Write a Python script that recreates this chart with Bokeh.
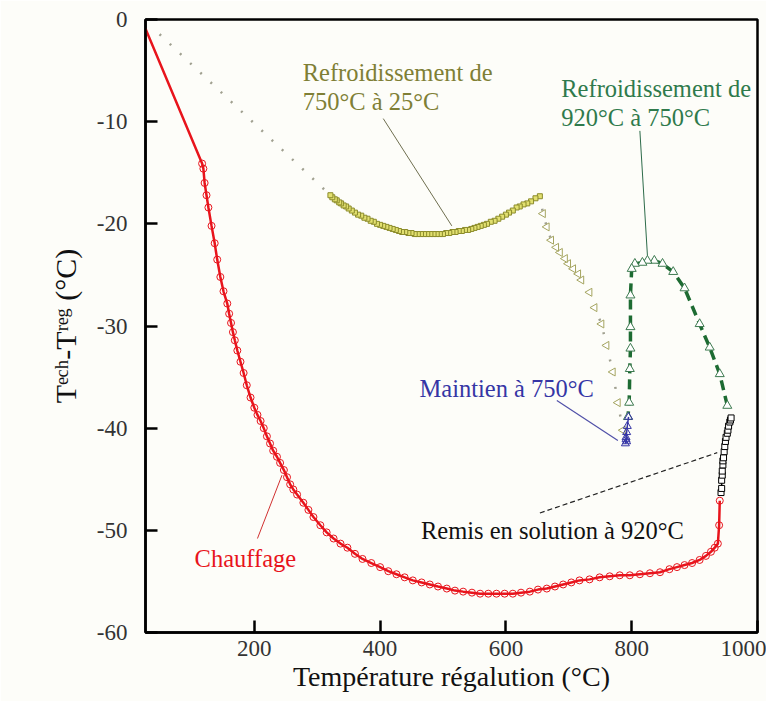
import math
from bokeh.plotting import figure
from bokeh.models import Range1d
from bokeh.core.properties import value
from bokeh.embed import file_html
from bokeh.resources import INLINE

# ---------------- data ----------------
# Chauffage (heating)
heat_x = [27, 117, 119, 121, 124, 127, 132, 137, 141, 146, 151, 157, 160, 163, 166, 169, 173, 178, 183,
          188, 194, 200, 205, 210, 215, 220, 225, 230, 236, 241, 247, 252, 257, 262, 268, 278, 286, 294,
          305, 315, 326, 337, 348, 360, 372, 386, 400, 413, 426, 439, 452, 466, 479, 492, 506, 519, 532,
          546, 559, 572, 585, 598, 611, 624, 638, 651, 665, 678, 691, 704, 717, 733, 749, 765, 781, 797,
          813, 829, 845, 860, 872, 884, 896, 908, 918, 926, 932, 937, 939, 940]
heat_y = [-0.9, -14.1, -14.6, -16.0, -17.2, -18.4, -20.2, -21.9, -23.5, -25.2, -26.6, -27.8, -28.8, -29.7,
          -30.6, -31.4, -32.4, -33.5, -34.6, -35.8, -37.0, -38.0, -38.7, -39.3, -40.0, -40.8, -41.5, -42.2,
          -42.8, -43.4, -44.1, -44.8, -45.5, -46.0, -46.5, -47.3, -48.0, -48.7, -49.5, -50.2, -50.8, -51.3,
          -51.7, -52.3, -52.8, -53.2, -53.6, -54.0, -54.3, -54.6, -54.9, -55.1, -55.3, -55.5, -55.7, -55.9,
          -56.0, -56.1, -56.2, -56.2, -56.2, -56.2, -56.2, -56.1, -56.0, -55.8, -55.7, -55.5, -55.3, -55.1,
          -54.9, -54.8, -54.6, -54.5, -54.4, -54.4, -54.3, -54.2, -54.1, -53.8, -53.6, -53.4, -53.2, -52.9,
          -52.5, -52.1, -51.7, -51.3, -49.5, -47.1]

# Remis en solution a 920 C (holding)
sol_x = [942, 943, 943, 944, 944, 945, 945, 946, 947, 948, 949, 950, 952, 953, 954, 956, 957, 958]
sol_y = [-46.3, -45.9, -45.1, -44.6, -44.2, -43.6, -43.2, -42.9, -42.3, -41.8, -41.3, -40.9, -40.5,
         -40.2, -39.8, -39.4, -39.2, -39.0]

# Refroidissement de 920 C a 750 C
cool2_x = [952, 940, 924, 908, 884, 866, 849, 836, 825, 817, 805, 800, 798, 798, 798, 797, 796, 794]
cool2_y = [-37.8, -34.7, -32.1, -29.8, -26.3, -24.7, -23.9, -23.6, -23.6, -23.8, -23.9, -24.4, -27.0,
           -30.1, -32.2, -34.2, -37.5, -38.9]

# Maintien a 750 C
hold_x = [795, 793, 792, 791, 792, 790, 791]
hold_y = [-38.9, -39.8, -40.4, -40.9, -41.3, -41.5, -41.1]

# Refroidissement de 750 C a 25 C : triangles then squares then the last point
cool1_tri_x = [786, 778, 770, 760, 752, 741, 733, 720, 715, 707, 699, 694, 686, 680, 672, 665, 659]
cool1_tri_y = [-40.2, -37.5, -34.5, -31.9, -29.8, -28.2, -26.7, -25.5, -24.9, -24.4, -23.9, -23.4,
               -22.8, -22.3, -21.6, -20.3, -19.0]
cool1_sq_x = [654, 647, 640, 634, 628, 622, 617, 611, 605, 600, 594, 588, 582, 576, 570, 565, 560, 555,
              550, 545, 540, 535, 530, 525, 520, 515, 510, 505, 500, 495, 490, 485, 480, 475, 470, 465,
              460, 455, 450, 445, 440, 435, 430, 425, 420, 415, 410, 405, 400, 395, 390, 385, 380, 375,
              370, 365, 360, 355, 350, 346, 342, 338, 335, 331, 328, 324, 321]
cool1_sq_y = [-17.3, -17.5, -17.8, -18.0, -18.1, -18.3, -18.4, -18.7, -18.9, -19.1, -19.3, -19.5, -19.7,
              -19.8, -20.0, -20.1, -20.2, -20.3, -20.4, -20.5, -20.6, -20.6, -20.7, -20.7, -20.8, -20.8,
              -20.9, -20.9, -21.0, -21.0, -21.0, -21.0, -21.0, -21.0, -21.0, -21.0, -21.0, -21.0, -20.9,
              -20.9, -20.8, -20.8, -20.7, -20.6, -20.5, -20.4, -20.3, -20.2, -20.1, -20.0, -19.8, -19.7,
              -19.5, -19.4, -19.2, -19.1, -18.9, -18.7, -18.5, -18.3, -18.2, -18.0, -17.9, -17.7, -17.6,
              -17.4, -17.2]
cool1_end_x = [40]
cool1_end_y = [-0.9]

x_ticks = [200, 400, 600, 800, 1000]
y_ticks = [0, -10, -20, -30, -40, -50, -60]
y_tick_labels = ["0", "-10", "-20", "-30", "-40", "-50", "-60"]

x_label = "Température régalution (°C)"
y_label = "T\u1d49\u1d9c\u02b0-T\u02b3\u1d49\u1d4d (°C)"

# annotation texts and their anchor points (data units)
note_text = ["Refroidissement de", "750°C à 25°C", "Refroidissement de", "920°C à 750°C",
             "Remis en solution à 920°C", "Chauffage"]
note_x = [277, 277, 688, 688, 465, 105]
note_y = [-5.2, -8.0, -6.8, -9.6, -50.0, -52.8]
blue_text = ["Maintien à 750°C"]
blue_x = [740]
blue_y = [-36.1]

# leader lines (x0, y0, x1, y1)
lead_olive = [405, -9.7, 514, -20.2]
lead_green = [813, -10.9, 825, -23.1]
lead_blue = [681, -37.3, 778, -41.2]
lead_red = [205, -50.8, 244, -44.6]
lead_black = [654, -48.3, 936, -42.4]

# ---------------- styles ----------------
FONT = "Liberation Serif"
BG = "#fdfdf9"
RED = "#e8141c"
OLIVE_TXT = "#7f7f35"
OLIVE_LINE = "#a0a090"
GREEN = "#1d6b32"
GREEN_TXT = "#2f7a4c"
BLUE = "#3535a5"
BLACK = "#111111"
note_colors = [OLIVE_TXT, OLIVE_TXT, GREEN_TXT, GREEN_TXT, BLACK, RED]

p = figure(width=766, height=701, x_range=Range1d(27, 1000), y_range=Range1d(-60, 0),
           output_backend="svg", toolbar_location=None,
           min_border_left=145, min_border_right=9, min_border_top=19, min_border_bottom=69)
p.background_fill_color = BG
p.border_fill_color = BG
p.grid.visible = False
p.outline_line_color = "black"
p.outline_line_width = 2.5

for ax in (p.xaxis[0], p.yaxis[0]):
    ax.axis_line_width = 2.5
    ax.major_tick_line_width = 2.5
    ax.major_tick_in = 12
    ax.major_tick_out = 0
    ax.minor_tick_line_color = None
    ax.major_label_text_font = FONT
    ax.major_label_text_font_size = "23px"
    ax.major_label_text_color = "#333333"

p.xaxis.ticker = x_ticks
p.yaxis.ticker = y_ticks
p.yaxis.major_label_overrides = {t: l for t, l in zip(y_ticks, y_tick_labels)}
p.xaxis.major_label_standoff = 8
p.yaxis.major_label_standoff = 18
p.xaxis.axis_label = x_label
p.xaxis.axis_label_text_font = FONT
p.xaxis.axis_label_text_font_size = "28px"
p.xaxis.axis_label_text_font_style = "normal"
p.xaxis.axis_label_text_color = BLACK
p.xaxis.axis_label_standoff = 2
p.yaxis.axis_label = y_label
p.yaxis.axis_label_text_font = FONT
p.yaxis.axis_label_text_font_size = "30px"
p.yaxis.axis_label_text_font_style = "normal"
p.yaxis.axis_label_text_color = BLACK
p.yaxis.axis_label_standoff = 12

# ---------------- series ----------------
# olive cooling 750 -> 25 (dotted line through all points)
p.line(cool1_tri_x + cool1_sq_x + cool1_end_x, cool1_tri_y + cool1_sq_y + cool1_end_y,
       line_color=OLIVE_LINE, line_width=2.5, line_dash="2 12")
p.scatter(cool1_tri_x, cool1_tri_y, marker="triangle", angle=math.pi / 2, size=8,
          line_color="#a5a560", fill_color="white", line_width=1)
p.scatter(cool1_sq_x, cool1_sq_y, marker="square", size=5,
          line_color="#8b8b2b", fill_color="#e2e070", line_width=1)

# heating
p.line(heat_x, heat_y, line_color=RED, line_width=2.5)
p.scatter(heat_x[1:], heat_y[1:], marker="circle", size=7, line_color=RED,
          fill_color=None, line_width=1)

# solution treatment hold
p.line(sol_x, sol_y, line_color="black", line_width=1.5)
p.scatter(sol_x, sol_y, marker="square", size=6, line_color="black", fill_color="white", line_width=1)

# cooling 920 -> 750
p.line(cool2_x, cool2_y, line_color=GREEN, line_width=3.5, line_dash="10 6")
p.scatter(cool2_x, cool2_y, marker="triangle", size=9, line_color="#3d7a50",
          fill_color="white", line_width=1)

# hold at 750
p.line(hold_x, hold_y, line_color=BLUE, line_width=1.5)
p.scatter(hold_x, hold_y, marker="triangle", size=8, line_color=BLUE, fill_color=None, line_width=1)

# ---------------- leaders ----------------
p.line(lead_olive[0::2], lead_olive[1::2], line_color="#6f6f50", line_width=1)
p.line(lead_green[0::2], lead_green[1::2], line_color="#2d6b4a", line_width=1)
p.line(lead_blue[0::2], lead_blue[1::2], line_color="#5050a8", line_width=1.2)
p.line(lead_red[0::2], lead_red[1::2], line_color="#d03030", line_width=1)
p.line(lead_black[0::2], lead_black[1::2], line_color="#222222", line_width=1.2, line_dash="5 3")

# ---------------- annotation texts ----------------
p.text(x=note_x, y=note_y, text=note_text, text_color=note_colors, text_font=value(FONT),
       text_font_size="24.5px", text_align="left", text_baseline="alphabetic")
p.text(x=blue_x, y=blue_y, text=blue_text, text_color=BLUE, text_font=value(FONT),
       text_font_size="24.5px", text_align="right", text_baseline="alphabetic")

open("out.html", "w").write(file_html(p, INLINE))
